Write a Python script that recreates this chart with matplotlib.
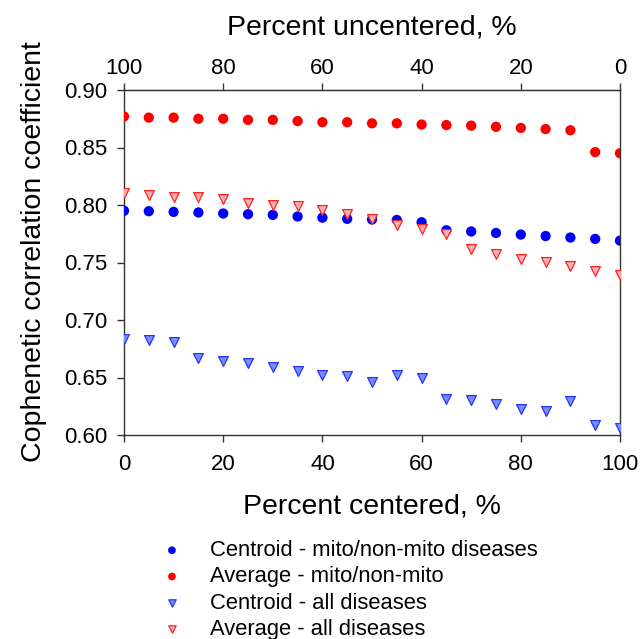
import matplotlib
matplotlib.use("Agg")
import matplotlib.pyplot as plt

plt.rcParams['font.family'] = ['Liberation Sans', 'DejaVu Sans']

pct_centered = [0, 5, 10, 15, 20, 25, 30, 35, 40, 45, 50, 55, 60, 65, 70, 75, 80, 85, 90, 95, 100]

centroid_mito = [0.795, 0.7946, 0.794, 0.7935, 0.7926, 0.792, 0.7914, 0.790, 0.789, 0.788, 0.7874,
                 0.787, 0.785, 0.778, 0.777, 0.7757, 0.7743, 0.773, 0.7717, 0.7705, 0.769]
average_mito = [0.877, 0.876, 0.876, 0.875, 0.875, 0.874, 0.874, 0.873, 0.872, 0.872, 0.871,
                0.871, 0.870, 0.8695, 0.869, 0.868, 0.867, 0.866, 0.865, 0.846, 0.845]
centroid_all = [0.6837, 0.6828, 0.681, 0.6668, 0.6645, 0.6622, 0.659, 0.6558, 0.6526, 0.6509, 0.6462,
                0.6523, 0.650, 0.6314, 0.6302, 0.6268, 0.623, 0.6207, 0.630, 0.6091, 0.606]
average_all = [0.8105, 0.809, 0.807, 0.8068, 0.8048, 0.802, 0.800, 0.7987, 0.7955, 0.792, 0.788,
               0.7824, 0.7787, 0.775, 0.762, 0.7577, 0.7534, 0.7505, 0.7467, 0.743, 0.739]

labels = ["Centroid - mito/non-mito diseases", "Average - mito/non-mito",
          "Centroid - all diseases", "Average - all diseases"]

fig = plt.figure(figsize=(6.41, 6.39), dpi=100)
ax = fig.add_axes([124/641, 1 - 435/639, (620 - 124)/641, (435 - 90)/639])

h1 = ax.scatter(pct_centered, centroid_mito, marker='o', s=55, color='#0000FF', edgecolors='none', zorder=3)
h2 = ax.scatter(pct_centered, average_mito, marker='o', s=55, color='#FF0000', edgecolors='none', zorder=3)
h3 = ax.scatter(pct_centered, centroid_all, marker='v', s=50, facecolor='#7A8FFF', edgecolors='#2233FF', linewidths=0.9, zorder=3)
h4 = ax.scatter(pct_centered, average_all, marker='v', s=50, facecolor='#FFB0B0', edgecolors='#FF2020', linewidths=0.9, zorder=3)

ax.set_xlim(0, 100)
ax.set_ylim(0.60, 0.90)
ax.set_xticks([0, 20, 40, 60, 80, 100])
ax.set_yticks([0.60, 0.65, 0.70, 0.75, 0.80, 0.85, 0.90])
ax.set_yticklabels([f"{v:.2f}" for v in [0.60, 0.65, 0.70, 0.75, 0.80, 0.85, 0.90]])
for sp in ax.spines.values():
    sp.set_color('#333333')
    sp.set_linewidth(1.0)
ax.tick_params(direction='out', length=5, width=1, color='#333333', labelsize=16, pad=7)
ax.tick_params(axis='x', pad=8.5)
ax.set_xlabel("Percent centered, %", fontsize=20.5, labelpad=13.5)
ax.set_ylabel("Cophenetic correlation coefficient", fontsize=20.5)
ax.yaxis.set_label_coords(-0.155, 0.533)

sec = ax.secondary_xaxis('top', functions=(lambda x: 100 - x, lambda x: 100 - x))
sec.set_xticks([0, 20, 40, 60, 80, 100])
sec.tick_params(direction='out', length=5, width=1, color='#333333', labelsize=16, pad=3)
sec.spines['top'].set_color('#333333')
sec.set_xlabel("Percent uncentered, %", fontsize=20.5, labelpad=17)

fig.legend([h1, h2, h3, h4], labels, loc='upper left', bbox_to_anchor=(150/641, 1 - 540/639),
           frameon=False, fontsize=15.8, markerscale=0.75, handlelength=2.0, handletextpad=0.73,
           labelspacing=0.24, borderpad=0, borderaxespad=0)

fig.savefig("out.png", dpi=100)
